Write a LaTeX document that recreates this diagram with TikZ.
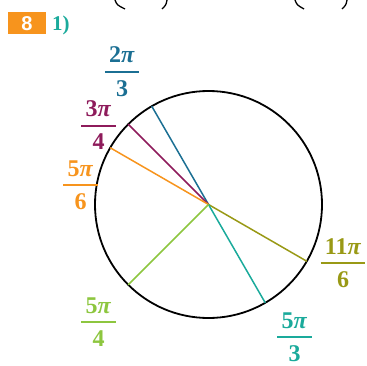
\documentclass[tikz,border=0pt]{standalone}
\usepackage{fontspec}
\setmainfont{Liberation Serif}
\setsansfont{Liberation Sans}
\definecolor{cA}{HTML}{1B6F93}
\definecolor{cB}{HTML}{8E1B5B}
\definecolor{cC}{HTML}{F7941D}
\definecolor{cD}{HTML}{999915}
\definecolor{cE}{HTML}{1AAA9B}
\definecolor{cF}{HTML}{8DC63F}
\newcommand{\pifrac}[6]{%
  \node[fr,text=#1] (#2n) at (#3,#4+9) {#5\textit{π}};
  \node[fr,text=#1] (#2d) at (#3,#4-24) {#6};
  \draw[#1,line width=2.8pt] ([xshift=-4pt]#2n.west|-0,#4) -- ([xshift=4pt]#2n.east|-0,#4);
}
\tikzset{
  ray/.style={line width=1.5pt},
  fr/.style={inner sep=0pt,anchor=base,font=\fontsize{24}{26}\selectfont\bfseries},
}
\begin{document}
\begin{tikzpicture}[x=1pt,y=1pt]
\useasboundingbox (0,0) rectangle (367,365);
% partial arcs at top
\draw[line width=1.3pt] (115,365) .. controls (117,360) .. (125,356);
\draw[line width=1.3pt] (167,365) .. controls (166,360) .. (162,356);
\draw[line width=1.3pt] (295,365) .. controls (297,360) .. (304,356);
\draw[line width=1.3pt] (347,365) .. controls (346,360) .. (342,356);
% header
\fill[cC] (8,331) rectangle (46,353);
\node[inner sep=0pt,text=white,anchor=base,font=\sffamily\bfseries\fontsize{20}{22}\selectfont] (num) at (27,334.5) {8};
\node[text=cE,anchor=base west,inner sep=0pt,font=\bfseries\fontsize{21}{23}\selectfont] (ex) at (52,334.5) {1)};
% circle
\coordinate (O) at (208.5,160.5);
\draw[line width=1.8pt] (O) circle[radius=113.5];
\draw[ray,cA] (O) -- ++(120:113.5) coordinate (eA);
\draw[ray,cB] (O) -- ++(135:113.5) coordinate (eB);
\draw[ray,cC] (O) -- ++(150:113.5) coordinate (eC);
\draw[ray,cD] (O) -- ++(330:113.5) coordinate (eD);
\draw[ray,cE] (O) -- ++(300:113.5) coordinate (eE);
\draw[ray,cF] (O) -- ++(225:113.5) coordinate (eF);
% labels
\pifrac{cA}{lA}{122}{293}{2}{3}
\pifrac{cB}{lB}{98.5}{239}{3}{4}
\pifrac{cC}{lC}{80.5}{180}{5}{6}
\pifrac{cD}{lD}{343}{102}{11}{6}
\pifrac{cE}{lE}{294.5}{28}{5}{3}
\pifrac{cF}{lF}{98.5}{43}{5}{4}
\end{tikzpicture}
\end{document}
